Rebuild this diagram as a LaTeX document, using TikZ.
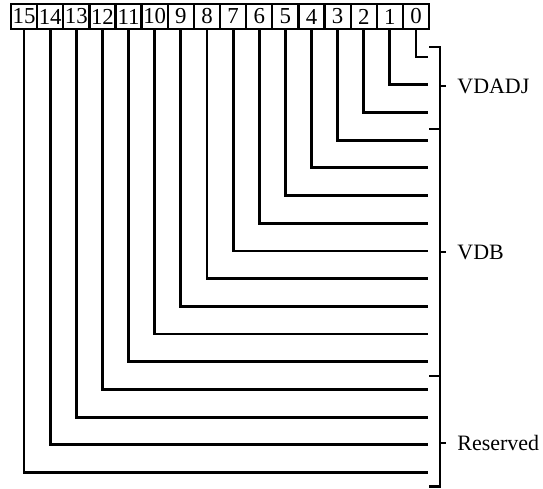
\documentclass[tikz,border=0pt]{standalone}
\usepackage{fontspec}
\setmainfont{Liberation Serif}
\begin{document}
\begin{tikzpicture}[x=0.02cm,y=-0.02cm,line width=1.6pt,
  bitbox/.style={draw,line width=1.3pt,minimum width=0.5226cm,minimum height=0.5cm,inner sep=0pt,font=\fontsize{13}{15}\selectfont},
  field/.style={anchor=west,inner sep=0pt,font=\fontsize{12.5}{15}\selectfont}]
\useasboundingbox (0,0) rectangle (543,488);
% bit boxes and their lines
\foreach \k in {0,...,15} {
  \node[bitbox] (b\k) at ({416-26.13*\k},16.5) {\k};
  \coordinate (e\k) at (428,{57+27.7*\k});
  \draw (b\k.south) |- (e\k);
}
% brackets with field names
\foreach \top/\bot/\mid/\name/\txt in {47/129/86/vdadj/VDADJ,129/376/252/vdb/VDB,376/486.5/443/rsvd/Reserved} {
  \draw (429,\top) -| (440,\bot) -- (429,\bot);
  \coordinate (t\name) at (440,\mid);
  \node[field] (\name) at (456,\mid) {\txt};
  \draw (t\name) -- ++(6,0);
}
\end{tikzpicture}
\end{document}
